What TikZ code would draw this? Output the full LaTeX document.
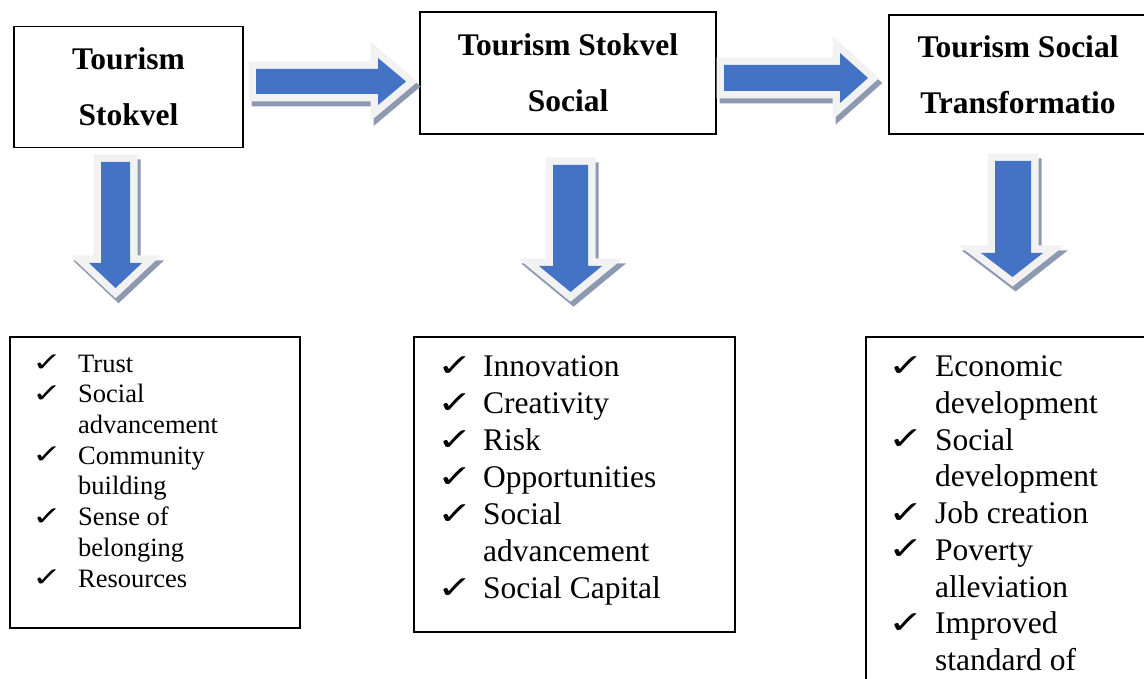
\documentclass[tikz,border=0pt]{standalone}
\usepackage{fontspec}
\setmainfont{Liberation Serif}
\newfontfamily\checkfont{DejaVu Sans}
\usetikzlibrary{positioning}

\definecolor{arrowblue}{HTML}{4472C4}
\definecolor{rimgray}{HTML}{F2F2F2}
\definecolor{shadegray}{HTML}{8D99B0}

\newcommand{\tick}{\raisebox{0.5pt}{\scalebox{1.35}[1.0]{\checkfont ✓}}}
% fat block arrow: shadow, light rim, blue body
\newcommand{\fatarrow}[1]{%
  \filldraw[arrowshade, shift={(3,5)}] #1 -- cycle;
  \draw[arrowrim] #1 -- cycle;
  \fill[arrowbody] #1 -- cycle;}

\tikzset{
  headbox/.style={draw, line width=1.6pt, align=center, inner sep=0pt,
    font=\bfseries\fontsize{31.5}{56}\selectfont},
  listbox/.style={draw, line width=1.6pt, inner sep=0pt},
  listtext/.style={anchor=north west, inner sep=0pt},
  arrowshade/.style={fill=shadegray, draw=shadegray, line width=15pt, line join=miter},
  arrowrim/.style={draw=rimgray, line width=15pt, line join=miter},
  arrowbody/.style={fill=arrowblue},
}

\begin{document}
\begin{tikzpicture}[x=1pt,y=-1pt]
\useasboundingbox (0,0) rectangle (1144,679);

% top row
\node[headbox, minimum width=229pt, minimum height=121pt] (stokvel) at (128.5,87) {Tourism\\Stokvel};
\node[headbox, minimum width=296pt, minimum height=122pt] (stokvelsocial) at (568,73) {Tourism Stokvel\\Social};
\node[headbox, minimum width=258pt, minimum height=119pt] (transform) at (1018,74.5) {Tourism Social\\Transformatio};

% arrows between the top boxes
\fatarrow{(256,69) -- (378,69) -- (378,58) -- (406,81.5) -- (378,105) -- (378,94) -- (256,94)}
\fatarrow{(724,65) -- (840,65) -- (840,53) -- (868,78) -- (840,103) -- (840,91) -- (724,91)}

% arrows down to the lists
\fatarrow{(101,162) -- (130,162) -- (130,263) -- (142,263) -- (115.5,288) -- (89,263) -- (101,263)}
\fatarrow{(553,165) -- (588,165) -- (588,266) -- (602,266) -- (570.5,292) -- (539,266) -- (553,266)}
\fatarrow{(995,161) -- (1031,161) -- (1031,253) -- (1043,253) -- (1012.5,277) -- (981,253) -- (995,253)}

% list boxes
\node[listbox, minimum width=290pt, minimum height=291pt] (trustbox) at (155,482.5) {};
\node[listbox, minimum width=321pt, minimum height=295pt] (innovbox) at (574.5,484.5) {};
\node[listbox, minimum width=284pt, minimum height=363pt] (econbox) at (1008,518.5) {};

\node[listtext, font=\fontsize{26.5}{30.7}\selectfont] (trustlist) at (32,350.5) {%
\begin{tabular}{@{}p{46pt}@{}l@{}}
\tick & Trust\\
\tick & Social\\
      & advancement\\
\tick & Community\\
      & building\\
\tick & Sense of\\
      & belonging\\
\tick & Resources
\end{tabular}};

\node[listtext, font=\fontsize{31.5}{37}\selectfont] (innovlist) at (437,350.6) {%
\begin{tabular}{@{}p{46pt}@{}l@{}}
\tick & Innovation\\
\tick & Creativity\\
\tick & Risk\\
\tick & Opportunities\\
\tick & Social\\
      & advancement\\
\tick & Social Capital
\end{tabular}};

\node[listtext, font=\fontsize{31.5}{36.75}\selectfont] (econlist) at (888,350.8) {%
\begin{tabular}{@{}p{47pt}@{}l@{}}
\tick & Economic\\
      & development\\
\tick & Social\\
      & development\\
\tick & Job creation\\
\tick & Poverty\\
      & alleviation\\
\tick & Improved\\
      & standard of
\end{tabular}};
\end{tikzpicture}
\end{document}
